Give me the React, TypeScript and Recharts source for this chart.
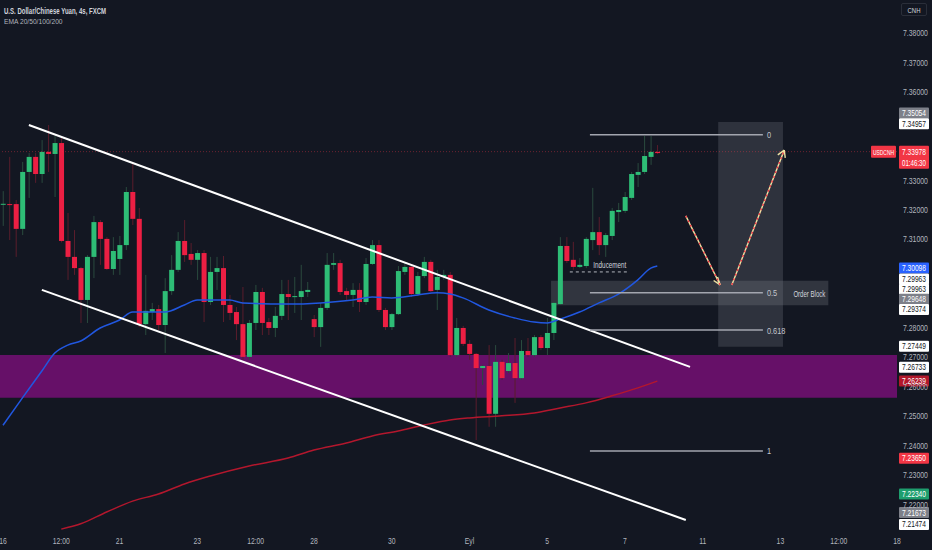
import React from "react";
import {
  Bar,
  ComposedChart,
  Line,
  ReferenceArea,
  ReferenceLine,
  XAxis,
  YAxis
} from "recharts";

// USDCNH 4h candles
const open = [
  7.3220, 7.3220, 7.3220, 7.3136, 7.3329, 7.3380, 7.3322, 7.3397, 7.3390, 7.3427,
  7.3095, 7.3041, 7.3003, 7.2895, 7.3041, 7.3159, 7.3102, 7.3000, 7.3034, 7.3081,
  7.3261, 7.3170, 7.2813, 7.2854, 7.2864, 7.2810, 7.2925, 7.2997, 7.3095, 7.3051,
  7.3031, 7.3054, 7.2888, 7.2990, 7.3003, 7.2878, 7.2854, 7.2813, 7.2702, 7.2817,
  7.2922, 7.2820, 7.2800, 7.2841, 7.2915, 7.2905, 7.2905, 7.2922, 7.2830, 7.2803,
  7.2868, 7.3014, 7.3020, 7.2925, 7.2912, 7.2929, 7.2888, 7.3017, 7.3081, 7.2861,
  7.2803, 7.2847, 7.2990, 7.3007, 7.2915, 7.2976, 7.3024, 7.2929, 7.2973, 7.2980,
  7.2708, 7.2800, 7.2746, 7.2712, 7.2664, 7.2671, 7.2509, 7.2685, 7.2654, 7.2681,
  7.2630, 7.2722, 7.2708, 7.2769, 7.2732, 7.2783, 7.2881, 7.3078, 7.3031, 7.3007,
  7.3010, 7.3098, 7.3125, 7.3081, 7.3112, 7.3193, 7.3197, 7.3241, 7.3319, 7.3329,
  7.3380, 7.3397
];
const high = [
  7.3264, 7.3380, 7.3234, 7.3363, 7.3393, 7.3393, 7.3437, 7.3488, 7.3451, 7.3444,
  7.3190, 7.3132, 7.3007, 7.3047, 7.3180, 7.3166, 7.3108, 7.3108, 7.3112, 7.3278,
  7.3359, 7.3207, 7.2980, 7.2885, 7.2878, 7.2969, 7.3047, 7.3125, 7.3166, 7.3088,
  7.3064, 7.3064, 7.3041, 7.3041, 7.3044, 7.2912, 7.2871, 7.2939, 7.2827, 7.2946,
  7.2936, 7.2834, 7.2871, 7.2963, 7.2963, 7.2973, 7.3014, 7.2956, 7.2844, 7.2885,
  7.3054, 7.3054, 7.3031, 7.2936, 7.2952, 7.2952, 7.3037, 7.3098, 7.3098, 7.2868,
  7.2851, 7.3010, 7.3024, 7.3017, 7.2990, 7.3041, 7.3031, 7.2997, 7.2997, 7.2990,
  7.2834, 7.2807, 7.2759, 7.2715, 7.2675, 7.2742, 7.2742, 7.2692, 7.2715, 7.2766,
  7.2759, 7.2766, 7.2776, 7.2776, 7.2834, 7.2888, 7.3108, 7.3108, 7.3092, 7.3037,
  7.3108, 7.3275, 7.3176, 7.3122, 7.3207, 7.3224, 7.3261, 7.3329, 7.3359, 7.3451,
  7.3451, 7.3420
];
const low = [
  7.3146, 7.3098, 7.3041, 7.3115, 7.3241, 7.3292, 7.3292, 7.3329, 7.3244, 7.3090,
  7.2963, 7.2980, 7.2817, 7.2817, 7.2969, 7.3014, 7.2997, 7.2980, 7.2980, 7.3064,
  7.3149, 7.2803, 7.2776, 7.2827, 7.2793, 7.2715, 7.2912, 7.2990, 7.3024, 7.3014,
  7.2963, 7.2820, 7.2878, 7.2929, 7.2820, 7.2827, 7.2759, 7.2692, 7.2692, 7.2793,
  7.2776, 7.2776, 7.2769, 7.2827, 7.2827, 7.2851, 7.2827, 7.2905, 7.2769, 7.2736,
  7.2861, 7.2997, 7.2912, 7.2895, 7.2871, 7.2854, 7.2878, 7.3014, 7.2854, 7.2793,
  7.2793, 7.2844, 7.2980, 7.2905, 7.2908, 7.2969, 7.2922, 7.2861, 7.2963, 7.2702,
  7.2702, 7.2739, 7.2692, 7.2420, 7.2607, 7.2465, 7.2465, 7.2624, 7.2647, 7.2546,
  7.2624, 7.2702, 7.2702, 7.2725, 7.2708, 7.2759, 7.2878, 7.3020, 7.2997, 7.3003,
  7.3003, 7.3064, 7.3047, 7.3041, 7.3098, 7.3159, 7.3190, 7.3234, 7.3278, 7.3322,
  7.3353, 7.3390
];
const close = [
  7.3221, 7.3218, 7.3136, 7.3329, 7.3380, 7.3322, 7.3397, 7.3390, 7.3427, 7.3095,
  7.3041, 7.3003, 7.2895, 7.3041, 7.3159, 7.3102, 7.3000, 7.3061, 7.3081, 7.3261,
  7.3170, 7.2813, 7.2858, 7.2864, 7.2810, 7.2925, 7.2997, 7.3095, 7.3047, 7.3031,
  7.3054, 7.2888, 7.2990, 7.3003, 7.2878, 7.2851, 7.2813, 7.2702, 7.2817, 7.2922,
  7.2817, 7.2800, 7.2841, 7.2915, 7.2905, 7.2908, 7.2925, 7.2929, 7.2803, 7.2868,
  7.3014, 7.3020, 7.2922, 7.2912, 7.2929, 7.2888, 7.3017, 7.3081, 7.2861, 7.2803,
  7.2847, 7.2993, 7.3007, 7.2915, 7.2976, 7.3024, 7.2925, 7.2973, 7.2980, 7.2708,
  7.2800, 7.2746, 7.2712, 7.2664, 7.2671, 7.2509, 7.2685, 7.2630, 7.2681, 7.2630,
  7.2722, 7.2708, 7.2769, 7.2732, 7.2783, 7.2885, 7.3078, 7.3027, 7.3007, 7.3014,
  7.3102, 7.3125, 7.3081, 7.3115, 7.3197, 7.3200, 7.3244, 7.3322, 7.3329, 7.3383,
  7.3397, 7.3393
];

// EMA 50 (blue) and EMA 200 (red), sampled at some candles
const ema50Idx = [0, 3, 6, 8, 10, 12, 15, 18, 20, 23, 25, 28, 30, 35, 37, 44, 49, 54, 57, 60, 64, 67, 69, 71, 75, 79, 82, 84, 86, 89, 92, 95, 98, 100, 101];
const ema50Val = [
  7.2470, 7.2563, 7.2654, 7.2715, 7.2742, 7.2756, 7.2800, 7.2827, 7.2854, 7.2854,
  7.2854, 7.2878, 7.2895, 7.2895, 7.2885, 7.2881, 7.2885, 7.2895, 7.2905, 7.2902,
  7.2912, 7.2919, 7.2915, 7.2902, 7.2861, 7.2834, 7.2820, 7.2817, 7.2830, 7.2854,
  7.2885, 7.2915, 7.2963, 7.3003, 7.3010
];
const ema200Idx = [9, 12, 16, 20, 24, 28, 32, 38, 44, 48, 53, 57, 61, 65, 69, 72, 77, 82, 86, 90, 94, 98, 101];
const ema200Val = [
  7.2118, 7.2136, 7.2176, 7.2213, 7.2237, 7.2271, 7.2298, 7.2332, 7.2359, 7.2386,
  7.2410, 7.2434, 7.2451, 7.2471, 7.2488, 7.2495, 7.2502, 7.2512, 7.2529, 7.2546,
  7.2570, 7.2597, 7.2620
];

const timeTicks = [0, 9, 18, 30, 39, 48, 60, 72, 84, 96, 108, 120, 129, 138];
const timeLabels = ["16", "12:00", "21", "23", "12:00", "28", "30", "Eyl", "5", "7", "11", "13", "12:00", "18"];
const priceTicks = [7.22, 7.23, 7.24, 7.25, 7.26, 7.27, 7.28, 7.31, 7.32, 7.33, 7.36, 7.37, 7.38];

// drawings: [candle index, price]
const upperChannel = [[4.0, 7.3488], [106.05, 7.2668]];
const lowerChannel = [[6.0, 7.2929], [105.4, 7.2149]];
const fibLevels = ["0", "0.5", "0.618", "1"];
const fibPrices = [7.3455, 7.2919, 7.2793, 7.2383];
const fibSpan = [90.6, 117.3];
const demandZone = [7.2563, 7.2708];
const orderBlock = [84.6, 127.4, 7.2877, 7.2960];
const projectionBox = [110.4, 120.4, 7.2736, 7.3498];
const inducement = [87.5, 96.5, 7.2990];
const arrowDown = [[105.4, 7.3180], [110.7, 7.2946]];
const arrowDownHead = [[110.3, 7.2973], [109.7, 7.2961]];
const arrowUp = [[112.5, 7.2946], [120.6, 7.3403]];
const arrowUpHead = [[119.6, 7.3387], [120.75, 7.3377]];

const lastPrice = 7.33978;
const badgePrices = [7.35054, 7.34957, 7.30098, 7.29963, 7.29963, 7.29648, 7.29374, 7.27449, 7.26733, 7.26239, 7.2365, 7.2234, 7.21673, 7.21474];
const badgeBg = ["#7d8089", "#ffffff", "#2962ff", "#ffffff", "#ffffff", "#7d8089", "#ffffff", "#ffffff", "#ffffff", "#b2182b", "#f23645", "#1e9e6e", "#7d8089", "#ffffff"];
const badgeShift = [-7, 1, 2, 9, 19, 20, 22, 2, 2, 1, 2, -1, -2, 4];

const BG = "#131722";
const UP = "#2ebd76";
const DN = "#ec1f43";
const WICK_UP = "#2a4a3e";
const WICK_DN = "#5a1d2c";
const TEXT = "#b2b5be";
const FONT = "'Liberation Sans', Arial, sans-serif";

const Y_MIN = 7.2115;
const Y_MAX = 7.3912;

// approximate Arial advance widths (em)
const ADV: Record<string, number> = {
  ".": 0.278, ":": 0.278, ",": 0.278, " ": 0.278, "/": 0.278,
  U: 0.722, S: 0.667, D: 0.722, C: 0.722, N: 0.722, H: 0.722, Y: 0.667, F: 0.611,
  X: 0.667, M: 0.833, E: 0.667, A: 0.667, O: 0.778, B: 0.667, I: 0.278,
  l: 0.222, i: 0.222, r: 0.333, s: 0.5, c: 0.5, k: 0.5, y: 0.5, m: 0.833, t: 0.278
};
const natural = (s: string, size: number) => {
  let w = 0;
  for (const ch of s) w += ADV[ch] ?? 0.556;
  return w * size;
};

// the screenshot's text is horizontally squeezed; scale glyphs to the measured width
function Sq(props: any) {
  const { x, y, s, size, w, k, anchor = "start", fill, weight } = props;
  const sx = k ?? w / (natural(s, size) * (weight ? 1.07 : 1));
  return (
    <text
      transform={`translate(${x} ${y}) scale(${sx.toFixed(3)} 1)`}
      textAnchor={anchor}
      fontSize={size}
      fontWeight={weight}
      fill={fill}
    >
      {s}
    </text>
  );
}

const toMap = (idx: number[], val: number[]) => {
  const m = new Map<number, number>();
  idx.forEach((k, j) => m.set(k, val[j]));
  return m;
};
const ema50Map = toMap(ema50Idx, ema50Val);
const ema200Map = toMap(ema200Idx, ema200Val);

const rows = open.map((o, i) => ({
  i,
  o,
  h: high[i],
  l: low[i],
  c: close[i],
  ema50: ema50Map.get(i),
  ema200: ema200Map.get(i)
}));

const seg = (p: number[][]) => [
  { x: p[0][0], y: p[0][1] },
  { x: p[1][0], y: p[1][1] }
];

function Candle(props: any) {
  const { x, y, width, height, payload } = props;
  if (!payload || x == null) return null;
  const { o, h, l, c } = payload;
  const top = Math.min(y, y + height);
  const span = Math.abs(height);
  const k = h > l ? span / (h - l) : 0;
  const yo = top + (h - o) * k;
  const yc = top + (h - c) * k;
  const up = c >= o;
  const cx = x + width / 2;
  return (
    <g>
      <line x1={cx} x2={cx} y1={top} y2={top + span} stroke={up ? WICK_UP : WICK_DN} strokeWidth={1} />
      <rect
        x={x}
        y={Math.min(yo, yc)}
        width={width}
        height={Math.max(1, Math.abs(yc - yo))}
        fill={up ? UP : DN}
      />
    </g>
  );
}

function TimeTick(props: any) {
  const { x, payload } = props;
  const j = timeTicks.indexOf(payload.value);
  return <Sq x={x} y={544} s={j >= 0 ? timeLabels[j] : ""} size={8.5} k={0.8} anchor="middle" fill={TEXT} />;
}

function PriceTick(props: any) {
  const { y, payload } = props;
  return <Sq x={903} y={y + 3} s={Number(payload.value).toFixed(5)} size={8.5} w={25} fill={TEXT} />;
}

const vbOf = (p: any) => p.viewBox || p;

function badgeLabel(j: number) {
  return (p: any) => {
    const vb = vbOf(p);
    const cy = vb.y + badgeShift[j];
    const bg = badgeBg[j];
    const fg = bg === "#ffffff" ? BG : "#ffffff";
    const left = vb.x + vb.width + 2;
    return (
      <g>
        <rect x={left} y={cy - 5.5} width={30} height={11} fill={bg} rx={1} />
        <Sq x={left + 15} y={cy + 3} s={badgePrices[j].toFixed(5)} size={8.5} w={24} anchor="middle" fill={fg} />
      </g>
    );
  };
}

function lastPriceLabel(p: any) {
  const vb = vbOf(p);
  const cy = vb.y;
  const right = vb.x + vb.width;
  return (
    <g>
      <rect x={right - 26} y={cy - 6} width={25} height={12} fill="#f23645" rx={1} />
      <Sq x={right - 13.5} y={cy + 3} s="USDCNH" size={8} w={21} anchor="middle" fill="#ffffff" />
      <rect x={right + 2} y={cy - 6} width={30} height={23} fill="#f23645" rx={1} />
      <Sq x={right + 17} y={cy + 3} s={lastPrice.toFixed(5)} size={8.5} w={24} anchor="middle" fill="#ffffff" />
      <Sq x={right + 17} y={cy + 14} s="01:46:30" size={8.5} w={24} anchor="middle" fill="#ffffff" />
    </g>
  );
}

function fibLabel(j: number) {
  return (p: any) => {
    const vb = vbOf(p);
    return <Sq x={vb.x + vb.width + 4} y={vb.y + 3.5} s={fibLevels[j]} size={9.5} k={0.78} fill="#c3c6ce" />;
  };
}

function orderBlockLabel(p: any) {
  const vb = vbOf(p);
  return <Sq x={vb.x + vb.width - 3} y={vb.y + vb.height / 2 + 3.5} s="Order Block" size={9} w={32} anchor="end" fill="#d1d4dc" />;
}

function inducementLabel(p: any) {
  const vb = vbOf(p);
  return <Sq x={vb.x + 40} y={vb.y - 4} s="Inducement" size={9} w={33} anchor="middle" fill="#d1d4dc" />;
}

export default function App() {
  const arrowParts = [
    arrowDown,
    arrowUp,
    [arrowDown[1], arrowDownHead[0]],
    [arrowDown[1], arrowDownHead[1]],
    [arrowUp[1], arrowUpHead[0]],
    [arrowUp[1], arrowUpHead[1]]
  ];
  return (
    <div
      style={{
        position: "fixed",
        left: 0,
        top: 0,
        width: 932,
        height: 550,
        background: BG,
        fontFamily: FONT,
        overflow: "hidden"
      }}
    >
      <ComposedChart
        width={932}
        height={550}
        data={rows}
        margin={{ top: 0, right: 0, bottom: 0, left: 0 }}
      >
        <XAxis
          dataKey="i"
          type="number"
          domain={[-0.46, 138]}
          allowDataOverflow
          ticks={timeTicks}
          interval={0}
          tick={<TimeTick />}
          axisLine={false}
          tickLine={false}
          height={20}
        />
        <YAxis
          orientation="right"
          type="number"
          domain={[Y_MIN, Y_MAX]}
          allowDataOverflow
          ticks={priceTicks}
          interval={0}
          tick={<PriceTick />}
          axisLine={false}
          tickLine={false}
          width={35}
        />

        <ReferenceArea y1={demandZone[0]} y2={demandZone[1]} fill="#661068" fillOpacity={1} stroke="none" ifOverflow="visible" />
        <ReferenceArea
          x1={orderBlock[0]}
          x2={orderBlock[1]}
          y1={orderBlock[2]}
          y2={orderBlock[3]}
          fill="#787b86"
          fillOpacity={0.3}
          stroke="none"
          ifOverflow="visible"
          label={orderBlockLabel}
        />
        <ReferenceArea
          x1={projectionBox[0]}
          x2={projectionBox[1]}
          y1={projectionBox[2]}
          y2={projectionBox[3]}
          fill="#787b86"
          fillOpacity={0.28}
          stroke="none"
          ifOverflow="visible"
        />

        <ReferenceLine y={lastPrice} stroke="#f23645" strokeOpacity={0.4} strokeDasharray="1 2" label={lastPriceLabel} />

        <Bar dataKey={(d: any) => [d.l, d.h]} shape={Candle} barSize={5} isAnimationActive={false} />

        <Line dataKey="ema50" type="monotone" stroke="#2157e0" strokeWidth={1.5} dot={false} activeDot={false} connectNulls isAnimationActive={false} />
        <Line dataKey="ema200" type="monotone" stroke="#b3172d" strokeWidth={1.5} dot={false} activeDot={false} connectNulls isAnimationActive={false} />

        <ReferenceLine segment={seg(upperChannel)} stroke="#ffffff" strokeWidth={2} ifOverflow="visible" />
        <ReferenceLine segment={seg(lowerChannel)} stroke="#ffffff" strokeWidth={2} ifOverflow="visible" />

        {fibPrices.map((p, j) => (
          <ReferenceLine
            key={"fib" + j}
            segment={[{ x: fibSpan[0], y: p }, { x: fibSpan[1], y: p }]}
            stroke="#a3a6af"
            strokeWidth={1.5}
            ifOverflow="visible"
            label={fibLabel(j)}
          />
        ))}

        <ReferenceLine
          segment={[{ x: inducement[0], y: inducement[2] }, { x: inducement[1], y: inducement[2] }]}
          stroke="#b2b5be"
          strokeDasharray="3 3"
          ifOverflow="visible"
          label={inducementLabel}
        />

        {arrowParts.map((a, j) => (
          <ReferenceLine key={"arc" + j} segment={seg(a)} stroke="#efe3a5" strokeWidth={1.4} ifOverflow="visible" />
        ))}
        {[arrowDown, arrowUp].map((a, j) => (
          <ReferenceLine key={"ard" + j} segment={seg(a)} stroke="#f23645" strokeWidth={1.4} strokeDasharray="2 3" ifOverflow="visible" />
        ))}

        {badgePrices.map((p, j) => (
          <ReferenceLine key={"b" + j} y={p} stroke="transparent" strokeWidth={0} label={badgeLabel(j)} />
        ))}
      </ComposedChart>

      <svg width={200} height={30} style={{ position: "absolute", left: 0, top: 0 }}>
        <Sq x={4} y={13.5} s="U.S. Dollar/Chinese Yuan, 4s, FXCM" size={8.5} w={106} weight={700} fill="#d1d4dc" />
        <Sq x={4} y={24} s="EMA 20/50/100/200" size={8} w={59} fill={TEXT} />
      </svg>
      <div
        style={{
          position: "absolute",
          left: 901,
          top: 3,
          width: 26,
          height: 13,
          border: "1px solid #2a2e39",
          borderRadius: 2,
          boxSizing: "border-box"
        }}
      >
        <svg width={26} height={13} style={{ position: "absolute", left: -1, top: -1 }}>
          <Sq x={13} y={9.5} s="CNH" size={8} w={13} anchor="middle" fill="#d1d4dc" />
        </svg>
      </div>
    </div>
  );
}
